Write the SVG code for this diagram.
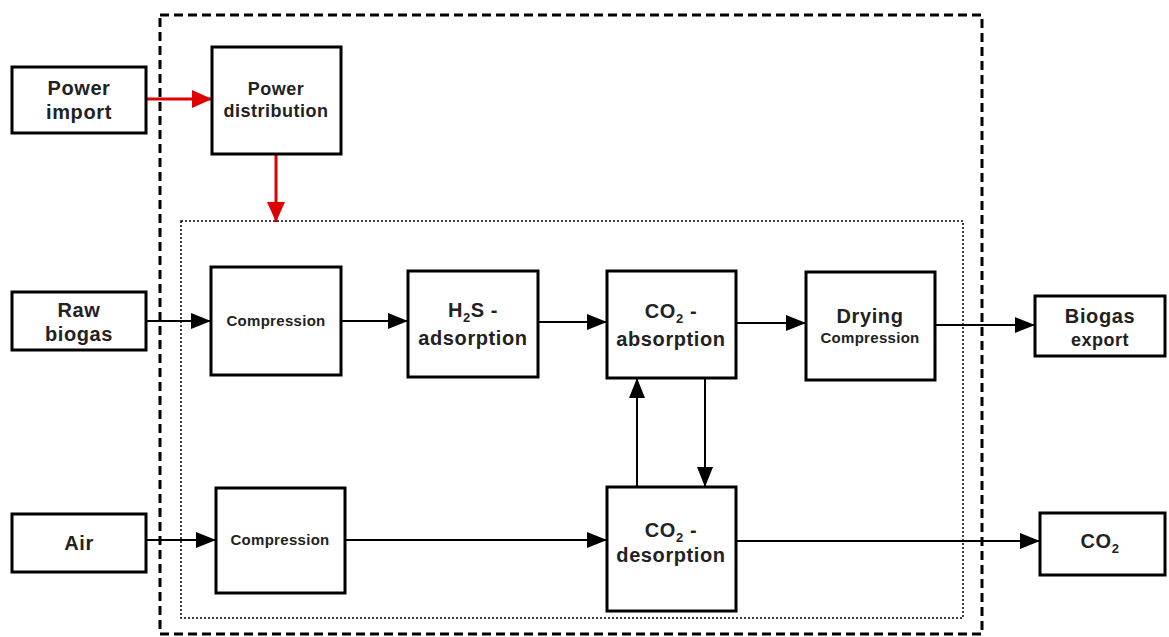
<svg xmlns="http://www.w3.org/2000/svg" width="1169" height="637" viewBox="0 0 1169 637">
<style>
.box{fill:#fff;stroke:#000;stroke-width:3}
.t{font-family:"Liberation Sans",Arial,sans-serif;font-weight:bold;fill:#222;text-anchor:middle}
.big{font-size:20px;letter-spacing:0.6px}
.sm{font-size:15px;letter-spacing:0.3px}
.ln{stroke:#000;stroke-width:2;fill:none}
.red{stroke:#e00000;stroke-width:3;fill:none}
</style>
<defs>
<marker id="ahb" markerWidth="20" markerHeight="16" refX="20" refY="8" orient="auto" markerUnits="userSpaceOnUse" viewBox="0 0 20 16"><path d="M0,0 L20,8 L0,16 Z" fill="#000"/></marker>
<marker id="ahr" markerWidth="20" markerHeight="18" refX="20" refY="9" orient="auto" markerUnits="userSpaceOnUse" viewBox="0 0 20 18"><path d="M0,0 L20,9 L0,18 Z" fill="#e00000"/></marker>
</defs>
<rect width="1169" height="637" fill="#fff"/>
<g id="boundaries">
<rect x="160" y="15" width="822" height="619" fill="none" stroke="#000" stroke-width="3" stroke-dasharray="9,5"/>
<rect x="181" y="221" width="782" height="397" fill="none" stroke="#000" stroke-width="1.5" stroke-dasharray="2,2"/>
</g>
<g id="connectors">
<line class="red" x1="146" y1="99" x2="212" y2="99" marker-end="url(#ahr)"/>
<line class="red" x1="276" y1="154" x2="276" y2="222" marker-end="url(#ahr)"/>
<line class="ln" x1="146" y1="321" x2="211" y2="321" marker-end="url(#ahb)"/>
<line class="ln" x1="341" y1="321" x2="408" y2="321" marker-end="url(#ahb)"/>
<line class="ln" x1="538" y1="322" x2="607" y2="322" marker-end="url(#ahb)"/>
<line class="ln" x1="736" y1="323" x2="806" y2="323" marker-end="url(#ahb)"/>
<line class="ln" x1="935" y1="325" x2="1035" y2="325" marker-end="url(#ahb)"/>
<line class="ln" x1="146" y1="540" x2="216" y2="540" marker-end="url(#ahb)"/>
<line class="ln" x1="345" y1="540" x2="607" y2="540" marker-end="url(#ahb)"/>
<line class="ln" x1="736" y1="541" x2="1040" y2="541" marker-end="url(#ahb)"/>
<line class="ln" x1="637" y1="487" x2="637" y2="378" marker-end="url(#ahb)"/>
<line class="ln" x1="705" y1="378" x2="705" y2="487" marker-end="url(#ahb)"/>
</g>
<g id="power-import"><rect class="box" x="12" y="67" width="134" height="66"/><text class="t big" x="79" y="95">Power</text><text class="t big" x="79" y="119">import</text></g>
<g id="power-distribution"><rect class="box" x="212" y="47" width="129" height="107"/><text class="t" font-size="18" letter-spacing="0.5" x="276" y="95">Power</text><text class="t" font-size="18" letter-spacing="0.5" x="276" y="117">distribution</text></g>
<g id="raw-biogas"><rect class="box" x="12" y="292" width="134" height="58"/><text class="t big" x="79" y="317">Raw</text><text class="t big" x="79" y="341">biogas</text></g>
<g id="compression-1"><rect class="box" x="211" y="267" width="130" height="108"/><text class="t sm" x="276" y="326">Compression</text></g>
<g id="h2s-adsorption"><rect class="box" x="408" y="271" width="130" height="106"/><text class="t big" x="473" y="317">H<tspan font-size="13" dy="5">2</tspan><tspan dy="-5">S -</tspan></text><text class="t big" x="473" y="345">adsorption</text></g>
<g id="co2-absorption"><rect class="box" x="607" y="271" width="129" height="107"/><text class="t big" x="671" y="318">CO<tspan font-size="13" dy="5">2</tspan><tspan dy="-5"> -</tspan></text><text class="t big" x="671" y="346">absorption</text></g>
<g id="drying"><rect class="box" x="806" y="272" width="129" height="108"/><text class="t big" x="870" y="323">Drying</text><text class="t sm" x="870" y="343">Compression</text></g>
<g id="biogas-export"><rect class="box" x="1035" y="296" width="130" height="60"/><text class="t big" x="1100" y="323">Biogas</text><text class="t" font-size="18" letter-spacing="0.5" x="1100" y="346">export</text></g>
<g id="air"><rect class="box" x="12" y="514" width="134" height="58"/><text class="t big" x="79" y="550">Air</text></g>
<g id="compression-2"><rect class="box" x="216" y="488" width="129" height="105"/><text class="t sm" x="280" y="545">Compression</text></g>
<g id="co2-desorption"><rect class="box" x="607" y="487" width="129" height="124"/><text class="t big" x="671" y="537">CO<tspan font-size="13" dy="5">2</tspan><tspan dy="-5"> -</tspan></text><text class="t big" x="671" y="562">desorption</text></g>
<g id="co2"><rect class="box" x="1040" y="513" width="125" height="62"/><text class="t big" x="1100" y="548">CO<tspan font-size="13" dy="5">2</tspan></text></g>
</svg>
